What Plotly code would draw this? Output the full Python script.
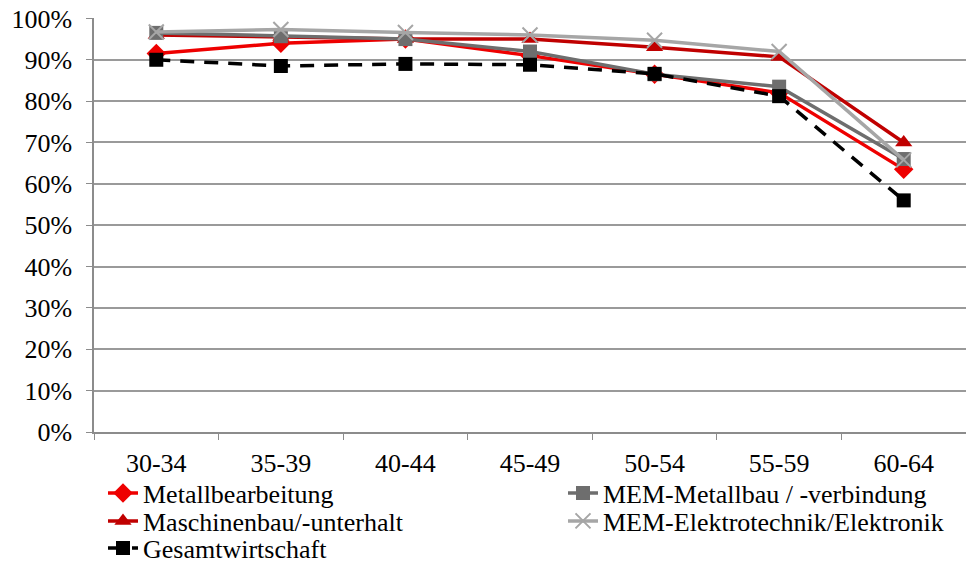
import plotly.graph_objects as go

categories = ["30-34", "35-39", "40-44", "45-49", "50-54", "55-59", "60-64"]
metallbearbeitung = [0.915, 0.940, 0.950, 0.910, 0.865, 0.820, 0.635]
mem_metallbau = [0.965, 0.957, 0.950, 0.920, 0.865, 0.835, 0.660]
maschinenbau = [0.960, 0.955, 0.950, 0.950, 0.930, 0.907, 0.700]
mem_elektro = [0.967, 0.973, 0.966, 0.960, 0.947, 0.920, 0.658]
gesamt = [0.900, 0.885, 0.890, 0.888, 0.866, 0.812, 0.560]

FONT = "Liberation Serif"
FS = 26

W, H = 966, 565
TOP, BOTTOM_PX, LEFT_PX = 18, 432, 94
PH = H - TOP  # paper height (margin b=0)

fig = go.Figure()

fig.add_trace(go.Scatter(
    x=categories, y=metallbearbeitung, name="Metallbearbeitung", legend="legend",
    mode="lines+markers", line=dict(color="#EE0000", width=3.5),
    marker=dict(symbol="diamond", size=15, color="#EE0000")))
fig.add_trace(go.Scatter(
    x=categories, y=maschinenbau, name="Maschinenbau/-unterhalt", legend="legend3",
    mode="lines+markers", line=dict(color="#C00000", width=3.5),
    marker=dict(symbol="triangle-up", size=15, color="#C00000")))
fig.add_trace(go.Scatter(
    x=categories, y=mem_metallbau, name="MEM-Metallbau / -verbindung", legend="legend2",
    mode="lines+markers", line=dict(color="#6E6E6E", width=3.5),
    marker=dict(symbol="square", size=14, color="#6E6E6E")))
fig.add_trace(go.Scatter(
    x=categories, y=mem_elektro, name="MEM-Elektrotechnik/Elektronik", legend="legend4",
    mode="lines+markers", line=dict(color="#A6A6A6", width=3.5),
    marker=dict(symbol="x-thin", size=15, color="#A6A6A6",
                line=dict(color="#A6A6A6", width=2))))
fig.add_trace(go.Scatter(
    x=categories, y=gesamt, name="Gesamtwirtschaft", legend="legend5",
    mode="lines+markers", line=dict(color="#000000", width=3.5, dash="14px,10px"),
    marker=dict(symbol="square", size=14, color="#000000")))


def leg(text_x_px, row_y_px):
    return dict(x=(text_x_px - 40) / W, y=(H - row_y_px) / PH,
                xanchor="left", yanchor="middle", orientation="h",
                font=dict(family=FONT, size=FS, color="black"),
                bgcolor="rgba(0,0,0,0)")


fig.update_layout(
    width=W, height=H,
    margin=dict(l=0, r=0, t=TOP, b=0, autoexpand=False),
    paper_bgcolor="white", plot_bgcolor="white",
    font=dict(family=FONT, size=FS, color="black"),
    showlegend=True,
    legend=leg(143, 493),
    legend2=leg(603, 493),
    legend3=leg(143, 521),
    legend4=leg(603, 521),
    legend5=leg(143, 548),
)
fig.update_xaxes(
    type="category", range=[-0.5, 6.5], domain=[LEFT_PX / W, 1],
    showline=True, linecolor="#8C8C8C", linewidth=1.5,
    ticks="outside", tickson="boundaries", ticklen=6, tickcolor="#8C8C8C",
    showgrid=False, ticklabelstandoff=7, automargin=False,
    tickfont=dict(family=FONT, size=FS, color="black"))
fig.update_yaxes(
    range=[0, 1.001], dtick=0.1, tickformat=".0%",
    domain=[(H - BOTTOM_PX) / PH, 1],
    showline=True, linecolor="#8C8C8C", linewidth=1.5,
    ticks="outside", ticklen=6, tickcolor="#8C8C8C",
    showgrid=True, gridcolor="#9A9A9A", gridwidth=1.8,
    zeroline=False, ticklabelstandoff=9, automargin=False,
    tickfont=dict(family=FONT, size=FS, color="black"))

fig.write_html("out.html",
               config={"displayModeBar": False},
               post_script="document.body.style.margin='0';document.body.style.overflow='hidden';")
